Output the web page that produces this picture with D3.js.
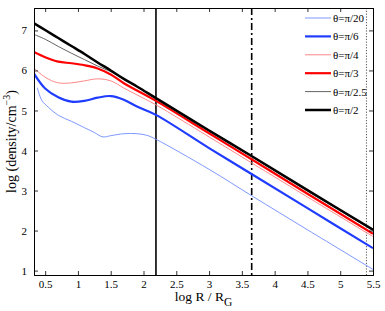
<!DOCTYPE html>
<html><head><meta charset="utf-8">
<script src="https://cdn.jsdelivr.net/npm/d3@7"></script>
<style>body{margin:0;background:#fff}svg{display:block}text{font-family:"Liberation Serif","DejaVu Serif",serif}</style>
</head><body>
<script>
// ---- data ----
const xsMain = [0.33, 0.5, 0.7, 0.9, 1.1, 1.3, 1.5, 1.7, 1.9, 2.19, 3.0, 3.66, 4.5, 5.5];
const yPi2   = [7.18, 7.01, 6.81, 6.61, 6.41, 6.20, 6.00, 5.79, 5.60, 5.31, 4.50, 3.85, 3.01, 2.02];
const yPi25  = [6.90, 6.78, 6.60, 6.43, 6.27, 6.11, 5.97, 5.78, 5.59, 5.30, 4.49, 3.84, 2.99, 2.00];
const yPi3   = [6.46, 6.33, 6.22, 6.18, 6.13, 6.05, 5.90, 5.68, 5.50, 5.24, 4.43, 3.77, 2.92, 1.92];
const yPi4   = [6.06, 5.83, 5.69, 5.69, 5.74, 5.79, 5.74, 5.56, 5.39, 5.14, 4.34, 3.68, 2.84, 1.85];
const yPi6   = [5.92, 5.55, 5.33, 5.22, 5.24, 5.32, 5.36, 5.27, 5.10, 4.89, 4.06, 3.40, 2.56, 1.56];
const xsPi20 = [0.38, 0.45, 0.55, 0.7, 0.9, 1.1, 1.25, 1.38, 1.5, 1.7, 1.9, 2.05, 2.19, 3.0, 3.66, 4.5, 5.5];
const yPi20  = [5.57, 5.25, 5.08, 4.88, 4.73, 4.57, 4.45, 4.34, 4.37, 4.42, 4.42, 4.38, 4.28, 3.53, 2.86, 2.02, 1.03];
const vlines = [2.19, 3.65, 5.40];
const xTicks = [0.5, 1, 1.5, 2, 2.5, 3, 3.5, 4, 4.5, 5, 5.5];
const yTicks = [1, 2, 3, 4, 5, 6, 7];
const labels = ["θ=π/20", "θ=π/6", "θ=π/4", "θ=π/3", "θ=π/2.5", "θ=π/2"];

const series = [
  {name: labels[0], xs: xsPi20, ys: yPi20, color: "#6f8cff", w: 0.9},
  {name: labels[1], xs: xsMain, ys: yPi6,  color: "#1f3cff", w: 2.2},
  {name: labels[2], xs: xsMain, ys: yPi4,  color: "#ff7b7b", w: 0.9},
  {name: labels[3], xs: xsMain, ys: yPi3,  color: "#ff0000", w: 2.2},
  {name: labels[4], xs: xsMain, ys: yPi25, color: "#505050", w: 0.9},
  {name: labels[5], xs: xsMain, ys: yPi2,  color: "#000000", w: 2.5}
];

const W = 385, H = 311;
const L = 34, T = 8, R = 373, B = 275;
const svg = d3.select("body").append("svg").attr("width", W).attr("height", H);
const x = d3.scaleLinear().domain([0.33, 5.5]).range([L, R]);
const y = d3.scaleLinear().domain([0.89, 7.56]).range([B, T]);

svg.append("clipPath").attr("id", "c").append("rect")
  .attr("x", L).attr("y", T).attr("width", R - L).attr("height", B - T);
const g = svg.append("g").attr("clip-path", "url(#c)");

// vertical lines
const vstyles = [{d: null, w: 1.6, c: "#000"}, {d: "7,3,2,3", w: 1.6, c: "#000"}, {d: "1.2,1.6", w: 1, c: "#555"}];
vlines.forEach((v, i) => {
  g.append("line").attr("x1", x(v)).attr("x2", x(v)).attr("y1", T).attr("y2", B)
    .attr("stroke", vstyles[i].c).attr("stroke-width", vstyles[i].w)
    .attr("stroke-dasharray", vstyles[i].d);
});

const line = d3.line().curve(d3.curveCatmullRom.alpha(0.5));
series.forEach(s => {
  g.append("path").attr("d", line(s.xs.map((v, i) => [x(v), y(s.ys[i])])))
    .attr("fill", "none").attr("stroke", s.color).attr("stroke-width", s.w)
    .attr("stroke-linejoin", "round");
});

// axes (MATLAB box style with inward ticks)
const fs = 11;
const axB = svg.append("g").attr("transform", `translate(0,${B})`)
  .call(d3.axisBottom(x).tickValues(xTicks).tickSize(-4).tickPadding(5).tickFormat(d3.format("")));
const axT = svg.append("g").attr("transform", `translate(0,${T})`)
  .call(d3.axisTop(x).tickValues(xTicks).tickSize(-4).tickFormat(""));
const axL = svg.append("g").attr("transform", `translate(${L},0)`)
  .call(d3.axisLeft(y).tickValues(yTicks).tickSize(-4).tickPadding(7).tickFormat(d3.format("d")));
const axR = svg.append("g").attr("transform", `translate(${R},0)`)
  .call(d3.axisRight(y).tickValues(yTicks).tickSize(-4).tickFormat(""));
[axB, axT, axL, axR].forEach(a => {
  a.attr("font-family", null);
  a.select(".domain").attr("stroke", "#000").attr("stroke-width", 1);
  a.selectAll(".tick line").attr("stroke", "#000").attr("stroke-width", 0.8);
  a.selectAll("text").attr("font-size", fs).attr("fill", "#000")
    .style("font-family", "'Liberation Serif', serif");
});

// axis labels
const xl = svg.append("text").attr("x", (L + R) / 2).attr("y", 301)
  .attr("text-anchor", "middle").attr("font-size", 13.5);
xl.append("tspan").text("log R / R");
xl.append("tspan").attr("dy", 5).attr("font-size", 11.5).text("G");

const yl = svg.append("text").attr("transform", `translate(16,${(T + B) / 2}) rotate(-90)`)
  .attr("text-anchor", "middle").attr("font-size", 14);
yl.append("tspan").text("log (density/cm");
yl.append("tspan").attr("dy", -6).attr("font-size", 10).text("−3");
yl.append("tspan").attr("dy", 6).text(")");

// legend
const lg = svg.append("g");
series.forEach((s, i) => {
  const yy = 18 + i * 18.4;
  lg.append("line").attr("x1", 305).attr("x2", 331).attr("y1", yy).attr("y2", yy)
    .attr("stroke", s.color).attr("stroke-width", s.w);
  lg.append("text").attr("x", 333).attr("y", yy + 4).attr("font-size", 11).text(s.name);
});
</script>
</body></html>
